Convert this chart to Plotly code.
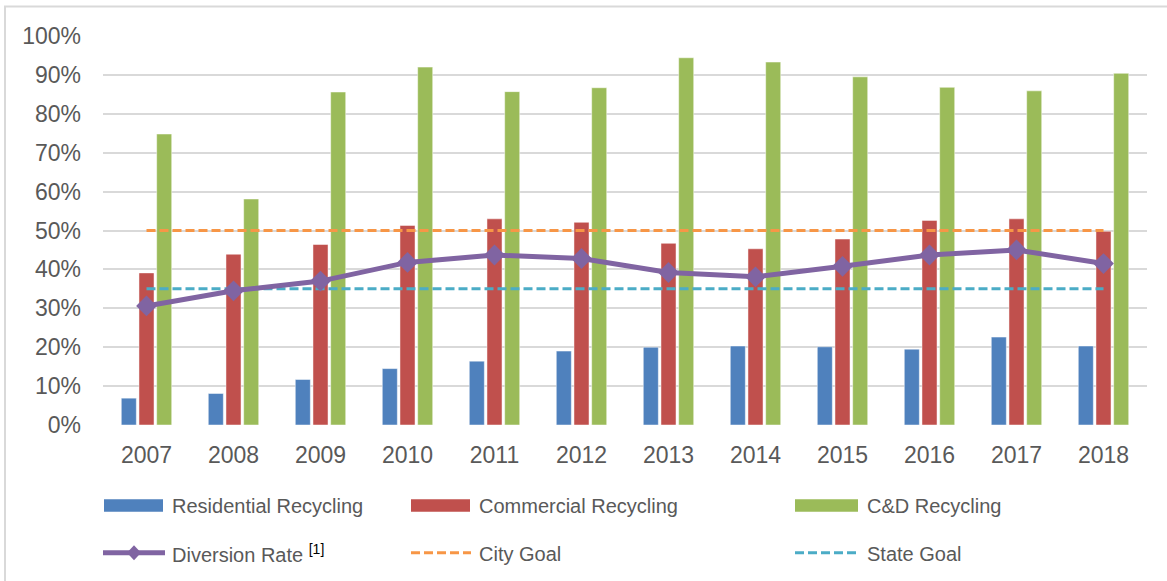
import plotly.graph_objects as go

# Annual recycling and diversion rates
years = ["2007", "2008", "2009", "2010", "2011", "2012",
         "2013", "2014", "2015", "2016", "2017", "2018"]
residential = [6.9, 8.1, 11.7, 14.5, 16.4, 19.0, 20.0, 20.3, 20.1, 19.5, 22.6, 20.3]
commercial = [39.1, 43.9, 46.4, 51.3, 53.0, 52.1, 46.7, 45.3, 47.8, 52.6, 53.0, 49.8]
cnd = [74.8, 58.1, 85.6, 92.0, 85.7, 86.7, 94.4, 93.3, 89.5, 86.8, 85.9, 90.4]
diversion = [30.6, 34.5, 37.0, 41.8, 43.7, 42.8, 39.2, 38.1, 40.8, 43.7, 45.0, 41.5]
city_goal = 50
state_goal = 35
y_ticks = [0, 10, 20, 30, 40, 50, 60, 70, 80, 90, 100]

BLUE, RED, GREEN = "#4F81BD", "#C0504D", "#9BBB59"
PURPLE, ORANGE, TEAL = "#8064A2", "#F79646", "#4BACC6"
TEXT = "#595959"
GRID = "#D9D9D9"
FONT = "Liberation Sans, Arial, sans-serif"

W, H = 1167, 581
ML, MR, MT, MB = 103, 20, 36, 156
PW, PH = W - ML - MR, H - MT - MB


def px_x(x):
    return (x - ML) / PW


def px_y(y):
    return (H - MB - y) / PH


fig = go.Figure()
bar_line = dict(width=0.8, color="rgba(255,255,255,0.6)")
fig.add_bar(x=years, y=[v / 100 for v in residential], name="Residential Recycling",
            marker=dict(color=BLUE, line=bar_line))
fig.add_bar(x=years, y=[v / 100 for v in commercial], name="Commercial Recycling",
            marker=dict(color=RED, line=bar_line))
fig.add_bar(x=years, y=[v / 100 for v in cnd], name="C&D Recycling",
            marker=dict(color=GREEN, line=bar_line))
fig.add_scatter(x=years, y=[city_goal / 100] * len(years), mode="lines", name="City Goal",
                line=dict(color=ORANGE, width=3, dash="9px,4px"))
fig.add_scatter(x=years, y=[state_goal / 100] * len(years), mode="lines", name="State Goal",
                line=dict(color=TEAL, width=3, dash="9px,4px"))
fig.add_scatter(x=years, y=[v / 100 for v in diversion], mode="lines+markers",
                name="Diversion Rate", line=dict(color=PURPLE, width=5),
                marker=dict(symbol="diamond", size=16, color=PURPLE))

fig.update_traces(showlegend=False)

shapes = []
annotations = []

# Frame edges
shapes.append(dict(type="line", xref="paper", yref="paper",
                   x0=px_x(4), x1=px_x(W), y0=px_y(6.5), y1=px_y(6.5),
                   line=dict(color=GRID, width=2)))
shapes.append(dict(type="line", xref="paper", yref="paper",
                   x0=px_x(5), x1=px_x(5), y0=px_y(6), y1=px_y(H),
                   line=dict(color=GRID, width=2)))

# Legend
row1, row2 = 505.5, 552.7
cols = [(104, 163, 170), (411, 470, 477), (795, 858, 865)]
bar_entries = [("Residential Recycling", BLUE), ("Commercial Recycling", RED),
               ("C&D Recycling", GREEN)]
for (x0, x1, tx), (label, color) in zip(cols, bar_entries):
    shapes.append(dict(type="rect", xref="paper", yref="paper",
                       x0=px_x(x0), x1=px_x(x1), y0=px_y(row1 - 6.3), y1=px_y(row1 + 6.3),
                       fillcolor=color, line=dict(width=0)))
    annotations.append(dict(text=label, x=px_x(tx), y=px_y(row1 + 1), xref="paper",
                            yref="paper", xanchor="left", yanchor="middle",
                            showarrow=False, font=dict(size=20, color=TEXT, family=FONT)))

line_entries = [("Diversion Rate <span style='color:#000000'><sup>[1]</sup></span>", PURPLE, None),
                ("City Goal", ORANGE, "9px,4px"), ("State Goal", TEAL, "9px,4px")]
for (x0, x1, tx), (label, color, dash) in zip(cols, line_entries):
    if dash is None:
        shapes.append(dict(type="line", xref="paper", yref="paper",
                           x0=px_x(x0 - 1), x1=px_x(x1 + 2), y0=px_y(row2), y1=px_y(row2),
                           line=dict(color=color, width=5)))
        cx = (x0 + x1 + 1) / 2
        shapes.append(dict(type="path", xref="paper", yref="paper",
                           path=f"M {px_x(cx - 7)},{px_y(row2)} L {px_x(cx)},{px_y(row2 - 7.5)} "
                                f"L {px_x(cx + 7)},{px_y(row2)} L {px_x(cx)},{px_y(row2 + 7.5)} Z",
                           fillcolor=color, line=dict(width=0)))
    else:
        shapes.append(dict(type="line", xref="paper", yref="paper",
                           x0=px_x(x0), x1=px_x(x1 + 1), y0=px_y(row2), y1=px_y(row2),
                           line=dict(color=color, width=3, dash=dash)))
    annotations.append(dict(text=label, x=px_x(tx), y=px_y(row2 + 1), xref="paper",
                            yref="paper", xanchor="left", yanchor="middle",
                            showarrow=False, font=dict(size=20, color=TEXT, family=FONT)))

fig.update_layout(
    width=W, height=H,
    margin=dict(l=ML, r=MR, t=MT, b=MB),
    paper_bgcolor="white", plot_bgcolor="white",
    barmode="group", bargap=0.39, bargroupgap=0.15,
    font=dict(family=FONT, color=TEXT),
    shapes=shapes, annotations=annotations,
    xaxis=dict(type="category", range=[-0.5, len(years) - 0.5], showgrid=False,
               showline=False, zeroline=False, ticks="",
               tickfont=dict(size=23, color=TEXT), ticklabelstandoff=14),
    yaxis=dict(range=[0, 1], tickvals=[v / 100 for v in y_ticks],
               ticktext=[f"{v}%" for v in y_ticks], showgrid=True, gridcolor=GRID,
               gridwidth=1.5, zeroline=False, showline=False, ticks="",
               tickfont=dict(size=23, color=TEXT), ticklabelstandoff=21),
)

fig.write_html("out.html")
